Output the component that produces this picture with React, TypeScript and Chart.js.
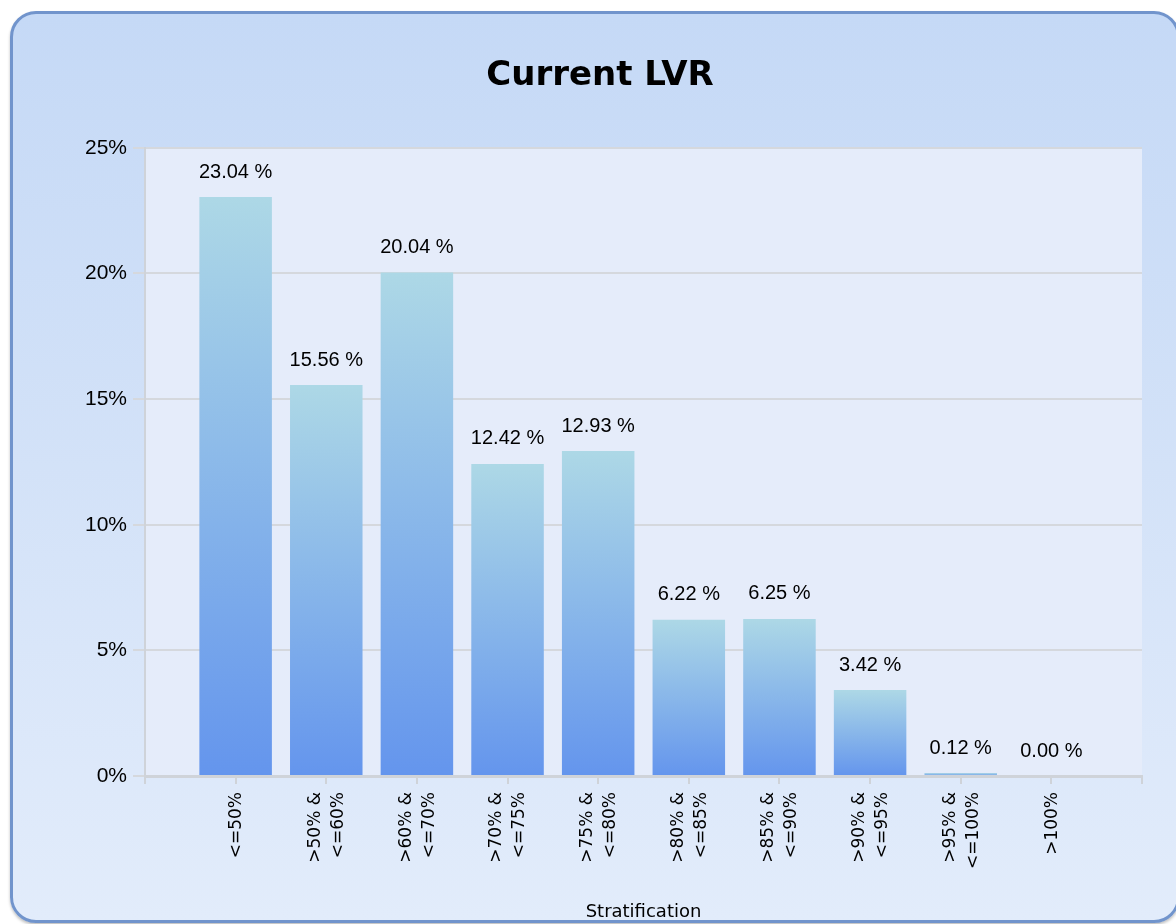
import React, { useEffect, useRef } from "react";
import { Chart, registerables } from "chart.js";

Chart.register(...registerables);

const TITLE = "Current LVR";
const X_TITLE = "Stratification";
const CATEGORIES: (string | string[])[] = [
  "<=50%",
  [">50% &", "<=60%"],
  [">60% &", "<=70%"],
  [">70% &", "<=75%"],
  [">75% &", "<=80%"],
  [">80% &", "<=85%"],
  [">85% &", "<=90%"],
  [">90% &", "<=95%"],
  [">95% &", "<=100%"],
  ">100%",
];
const VALUES: number[] = [23.04, 15.56, 20.04, 12.42, 12.93, 6.22, 6.25, 3.42, 0.12, 0.0];
const Y_MIN = 0;
const Y_MAX = 25;
const Y_STEP = 5;

const X_FONT = "17px 'DejaVu Sans', Verdana, sans-serif";
const X_LINE = 23;

const plotBg = {
  id: "plotBg",
  beforeDraw(chart: any) {
    const { ctx, chartArea } = chart;
    ctx.save();
    ctx.fillStyle = "#e5ecfa";
    ctx.fillRect(chartArea.left, chartArea.top, chartArea.right - chartArea.left, chartArea.bottom - chartArea.top);
    ctx.restore();
  },
};

const valueLabels = {
  id: "valueLabels",
  afterDatasetsDraw(chart: any) {
    const { ctx } = chart;
    const meta = chart.getDatasetMeta(0);
    const data = chart.data.datasets[0].data;
    ctx.save();
    ctx.font = "20px 'Liberation Sans', Arial, sans-serif";
    ctx.fillStyle = "#000";
    ctx.textAlign = "center";
    ctx.textBaseline = "middle";
    meta.data.forEach((el: any, i: number) => {
      const v = data[i];
      if (v === null || v === undefined) return;
      ctx.fillText(`${Number(v).toFixed(2)} %`, el.x, el.y - 25);
    });
    ctx.restore();
  },
};

// Rotated, multi-line category labels centred on each tick of the x scale
const xLabels = {
  id: "xLabels",
  afterDraw(chart: any) {
    const { ctx } = chart;
    const xs = chart.scales.x;
    const labels = chart.data.labels;
    const yTop = xs.top + 16;
    ctx.save();
    ctx.font = X_FONT;
    ctx.fillStyle = "#000";
    ctx.textAlign = "right";
    ctx.textBaseline = "middle";
    labels.forEach((lab: any, i: number) => {
      const lines: string[] = Array.isArray(lab) ? lab : [lab];
      if (!lines.join("")) return;
      const x = xs.getPixelForTick(i);
      ctx.save();
      ctx.translate(x, yTop);
      ctx.rotate(-Math.PI / 2);
      lines.forEach((ln, j) => {
        ctx.fillText(ln, 0, (j - (lines.length - 1) / 2) * X_LINE + 1);
      });
      ctx.restore();
    });
    ctx.restore();
  },
};

export default function App() {
  const ref = useRef<HTMLCanvasElement>(null);

  useEffect(() => {
    if (!ref.current) return;
    const labels = ["", ...CATEGORIES, ""];
    const data = [null, ...VALUES, null];
    const chart = new Chart(ref.current, {
      type: "bar",
      data: {
        labels: labels as any,
        datasets: [
          {
            data: data as any,
            barPercentage: 0.8,
            categoryPercentage: 1,
            borderWidth: 0,
            backgroundColor: (c: any) => {
              const chartObj = c.chart;
              const y = chartObj.scales?.y;
              const v = c.raw;
              if (!y || v === null || v === undefined) return "#6495ed";
              const top = y.getPixelForValue(v);
              const base = y.getPixelForValue(0);
              if (!isFinite(top) || !isFinite(base) || base - top < 1) return "#8fc0ea";
              const g = chartObj.ctx.createLinearGradient(0, top, 0, base);
              g.addColorStop(0, "#add8e6");
              g.addColorStop(1, "#6495ed");
              return g;
            },
          },
        ],
      },
      options: {
        animation: false,
        responsive: false,
        maintainAspectRatio: false,
        layout: { padding: { left: 45, right: 35, top: 0, bottom: 0 } },
        plugins: {
          legend: { display: false },
          tooltip: { enabled: false },
          title: {
            display: true,
            text: TITLE,
            color: "#000",
            font: { family: "'DejaVu Sans', Verdana, sans-serif", size: 34, weight: "bold" },
            padding: { top: 42, bottom: 51 },
          },
        },
        scales: {
          x: {
            type: "category",
            offset: false,
            grid: {
              offset: false,
              drawOnChartArea: false,
              drawTicks: true,
              tickLength: 8,
              color: "#cfd3d9",
              lineWidth: 2,
            },
            border: { display: true, color: "#cfd3d9", width: 3 },
            ticks: {
              display: false,
              autoSkip: false,
            },
            title: {
              display: true,
              text: X_TITLE,
              color: "#000",
              font: { family: "'DejaVu Sans', Verdana, sans-serif", size: 18 },
              padding: { top: 4, bottom: 4 },
            },
            afterFit: (s: any) => {
              s.height = 151;
            },
          },
          y: {
            min: Y_MIN,
            max: Y_MAX,
            ticks: {
              stepSize: Y_STEP,
              padding: 6,
              color: "#000",
              font: { family: "'Liberation Sans', Arial, sans-serif", size: 21 },
              callback: (v: any) => `${v}%`,
            },
            grid: {
              color: "#d5d8dd",
              lineWidth: 2,
              tickLength: 12,
              drawTicks: true,
            },
            border: { display: true, color: "#cfd3d9", width: 2 },
            afterFit: (s: any) => {
              s.width = 87;
            },
          },
        },
      },
      plugins: [plotBg, valueLabels, xLabels],
    });
    return () => chart.destroy();
  }, []);

  return (
    <div
      style={{
        position: "fixed",
        left: 10,
        top: 11,
        width: 1170,
        height: 912,
        boxSizing: "border-box",
        border: "3px solid #7194cc",
        borderRadius: 26,
        background: "linear-gradient(to bottom, #c5d9f6 0%, #d3e2f8 50%, #e2ecfb 100%)",
        boxShadow: "0 2px 3px rgba(0,0,0,0.25)",
        overflow: "hidden",
      }}
    >
      <canvas
        ref={ref}
        width={1164}
        height={913}
        style={{ position: "absolute", left: 0, top: 0, width: 1164, height: 913 }}
      />
    </div>
  );
}
